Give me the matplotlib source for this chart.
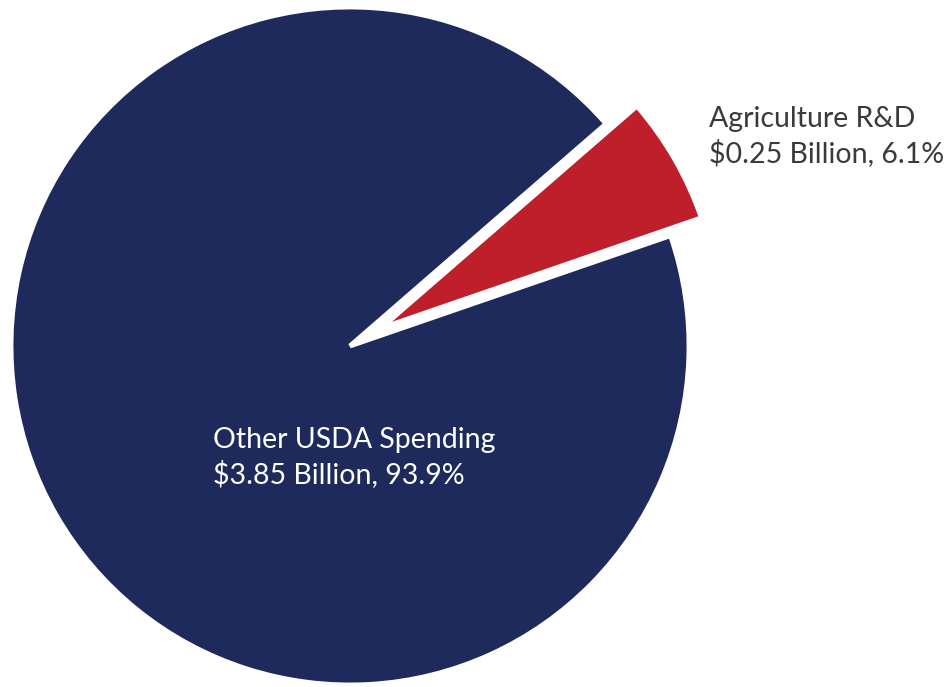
import matplotlib
matplotlib.use("Agg")
import matplotlib.pyplot as plt

categories = ["Agriculture R&D", "Other USDA Spending"]
values_billion = [0.25, 3.85]
percents = [6.1, 93.9]
colors = ["#BF1F2A", "#1F2A5C"]

W, H = 951, 687
fig = plt.figure(figsize=(W / 100, H / 100), dpi=100)
cx, cy, r = 350, 346, 339
ax = fig.add_axes([(cx - r) / W, (H - cy - r) / H, 2 * r / W, 2 * r / H])
wedges, _ = ax.pie(values_billion, colors=colors, startangle=19, counterclock=True,
                   explode=[0.105, 0], radius=1,
                   wedgeprops=dict(edgecolor="white", linewidth=3.5))
for w in wedges:
    w.set_clip_on(False)
ax.set_xlim(-1, 1)
ax.set_ylim(-1, 1)
ax.set_aspect("equal")
ax.axis("off")

font = "Lato"
fs = 20.5
labels = [f"{c}" for c in categories]
sub = [f"${v:.2f} Billion, {p}%" for v, p in zip(values_billion, percents)]

# Agriculture R&D label (outside)
fig.text(709 / W, 1 - 127 / H, labels[0], family=font, fontsize=fs, color="#3A3A3A",
         ha="left", va="baseline")
fig.text(709 / W, 1 - 162 / H, sub[0], family=font, fontsize=fs, color="#3A3A3A",
         ha="left", va="baseline")
# Other label (inside)
fig.text(213 / W, 1 - 448 / H, labels[1], family=font, fontsize=fs, color="white",
         ha="left", va="baseline")
fig.text(213 / W, 1 - 483 / H, sub[1], family=font, fontsize=fs, color="white",
         ha="left", va="baseline")

fig.savefig("out.png", dpi=100, facecolor="white")
